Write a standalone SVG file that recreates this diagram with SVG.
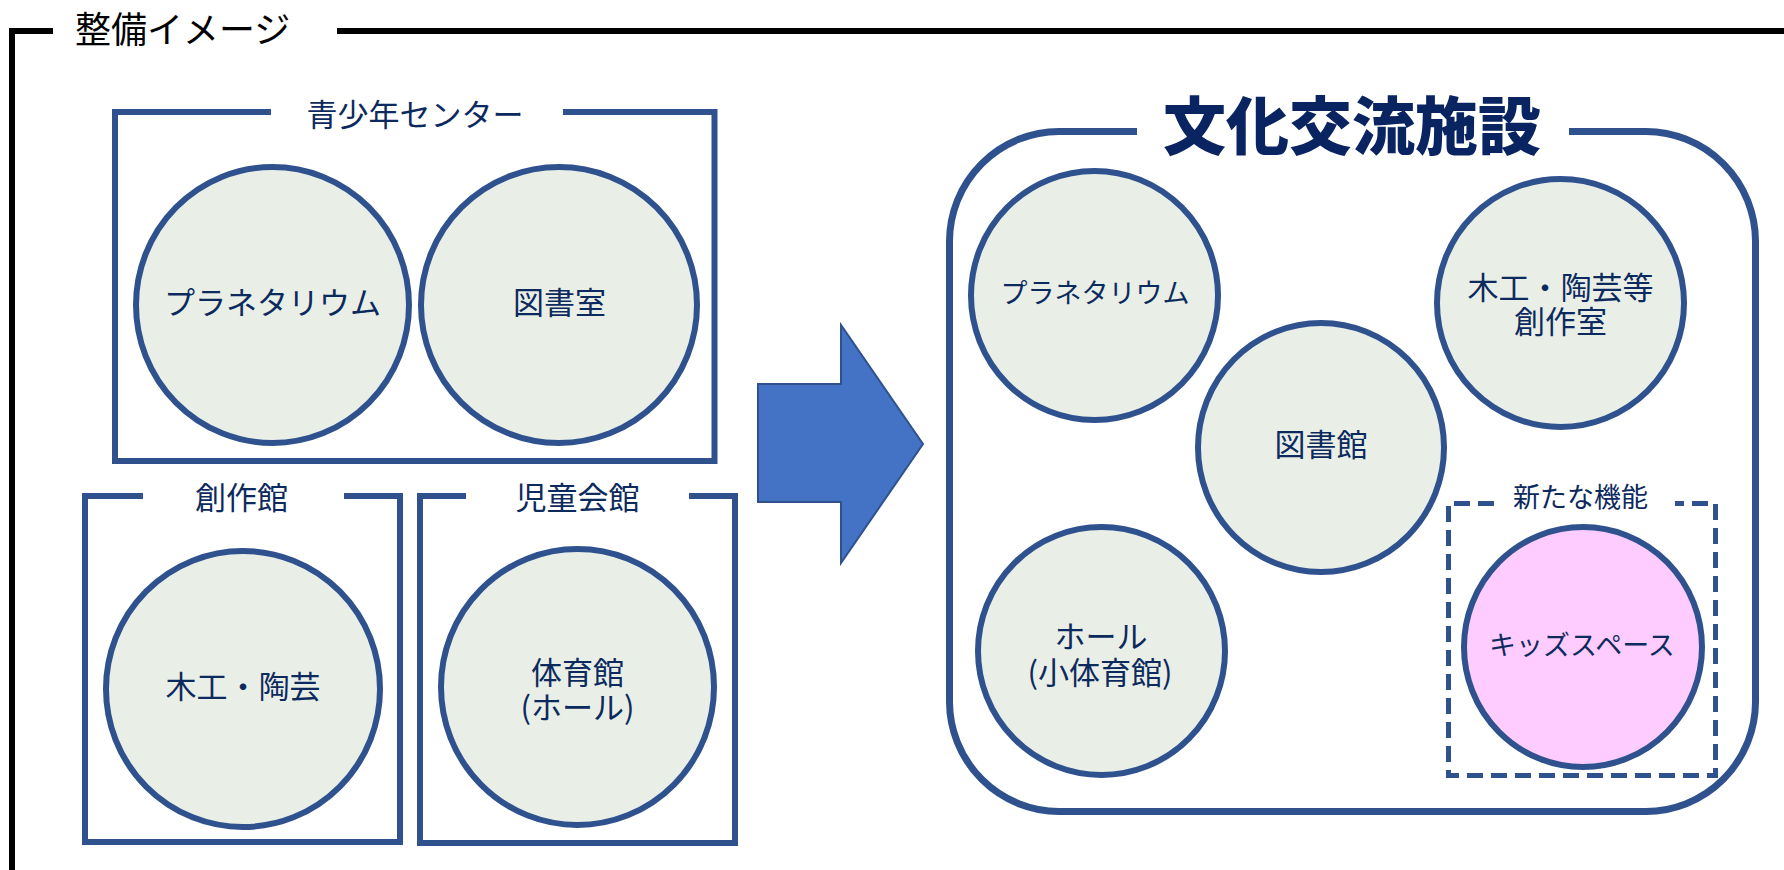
<svg xmlns="http://www.w3.org/2000/svg" width="1784" height="870" viewBox="0 0 1784 870">
<style>
  .frame{fill:none;stroke:#000;stroke-width:6}
  .box{fill:none;stroke:#2F528F;stroke-width:6}
  .dash{fill:none;stroke:#2F528F;stroke-width:5;stroke-dasharray:16 8}
  .node{fill:#E9EFE7;stroke:#2F528F;stroke-width:6}
  .kids{fill:#FFCCFF;stroke:#2F528F;stroke-width:6}
  text{font-family:"Noto Sans CJK JP","Noto Sans",sans-serif;dominant-baseline:central;text-anchor:middle;fill:#0D2A5E}
  .t31{font-size:31px}
  .t27{font-size:27px}
  .title{font-size:63px;font-weight:900;fill:#0A2462}
  .head{font-size:36px;fill:#000;text-anchor:start}
</style>
<rect width="1784" height="870" fill="#fff"/>

<g id="frame">
  <path class="frame" d="M12,870 V31 H53"/>
  <path class="frame" d="M337,31 H1784"/>
  <path d="M9,31 H53" stroke="#000" stroke-width="6"/>
  <text class="head" x="75" y="27">整備イメージ</text>
</g>

<g id="youth-center">
  <path class="box" d="M271,112 H115 V461 H714.5 V112 H563"/>
  <text class="t31" x="415" y="112">青少年センター</text>
</g>
<g id="planetarium-old">
  <ellipse class="node" cx="272.5" cy="305" rx="136.5" ry="138"/>
  <text class="t31" x="272.5" y="300">プラネタリウム</text>
</g>
<g id="library-room-old">
  <ellipse class="node" cx="559" cy="305" rx="138" ry="138"/>
  <text class="t31" x="559.5" y="300">図書室</text>
</g>

<g id="sousaku-kan">
  <path class="box" d="M143,496 H85 V842 H400 V496 H344"/>
  <text class="t31" x="241.5" y="495.5">創作館</text>
</g>
<g id="woodwork-old">
  <ellipse class="node" cx="243" cy="689" rx="137" ry="138"/>
  <text class="t31" x="243" y="684">木工・陶芸</text>
</g>

<g id="jido-kaikan">
  <path class="box" d="M466,496 H420 V843 H735 V496 H689"/>
  <text class="t31" x="577.5" y="495.5">児童会館</text>
</g>
<g id="gym-old">
  <ellipse class="node" cx="577.5" cy="687" rx="136.5" ry="138"/>
  <text class="t31" x="577.5" y="670">体育館<tspan x="577.5" dy="35">(ホール)</tspan></text>
</g>

<g id="connectors">
  <polygon points="758,384 841,384 841,325 923,444 841,563 841,502 758,502" fill="#4472C4" stroke="#2F528F" stroke-width="2" stroke-linejoin="miter"/>
</g>

<g id="cultural-facility">
  <path class="box" style="stroke-width:7" d="M1569,131.5 H1646 A110,110 0 0 1 1755.5,241 V702 A110,110 0 0 1 1646,811.5 H1059 A110,110 0 0 1 949.5,702 V241 A110,110 0 0 1 1059,131.5 H1137"/>
  <text class="title" x="1352" y="121">文化交流施設</text>
</g>
<g id="planetarium-new">
  <ellipse class="node" cx="1094.5" cy="295.5" rx="123.5" ry="124.5"/>
  <text class="t27" x="1095" y="291">プラネタリウム</text>
</g>
<g id="woodwork-new">
  <ellipse class="node" cx="1560.5" cy="303" rx="123.5" ry="124"/>
  <text class="t31" x="1560.5" y="285">木工・陶芸等<tspan x="1560.5" dy="34">創作室</tspan></text>
</g>
<g id="library-new">
  <ellipse class="node" cx="1321" cy="447.5" rx="123" ry="124.5"/>
  <text class="t31" x="1321" y="442.5">図書館</text>
</g>
<g id="hall-new">
  <ellipse class="node" cx="1101.5" cy="651" rx="123.5" ry="124"/>
  <text class="t31" x="1101" y="634.5">ホール<tspan x="1100" dy="35.5">(小体育館)</tspan></text>
</g>
<g id="new-functions">
  <path class="dash" d="M1494,503.5 H1448.5 V775.5 H1715.5 V503.5 H1675"/>
  <text class="t27" x="1580.5" y="495.5">新たな機能</text>
</g>
<g id="kids-space">
  <ellipse class="kids" cx="1583" cy="647" rx="119" ry="120"/>
  <text class="t27" x="1582" y="643">キッズスペース</text>
</g>
</svg>
